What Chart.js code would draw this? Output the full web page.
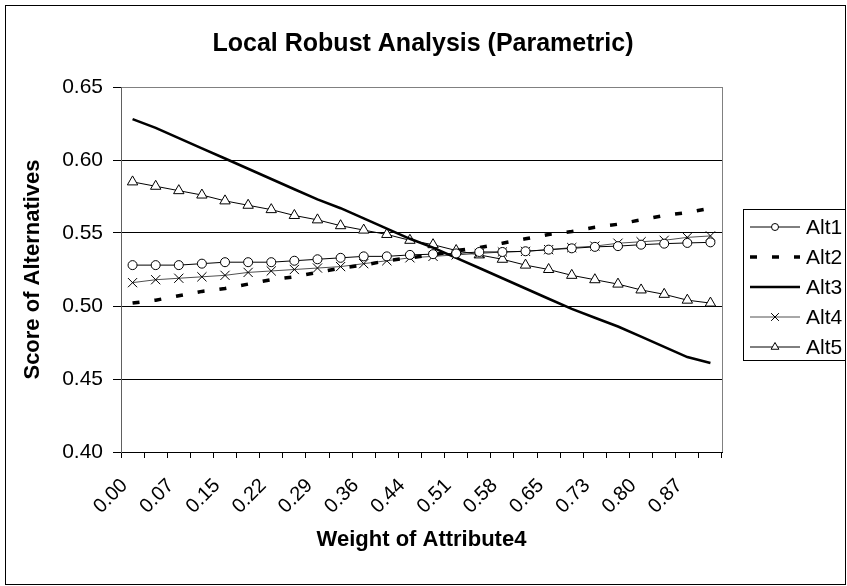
<!DOCTYPE html>
<html>
<head>
<meta charset="utf-8">
<script src="https://cdn.jsdelivr.net/npm/chart.js@4.4.1/dist/chart.umd.min.js"></script>
<style>
  html, body { margin: 0; padding: 0; background: #fff; }
  #wrap { width: 847px; height: 586px; position: relative; }
</style>
</head>
<body>
<div id="wrap"><canvas id="c" width="847" height="586"></canvas></div>
<script>
const categories = ['0.00','0.04','0.07','0.11','0.15','0.18','0.22','0.25','0.29','0.33','0.36','0.40','0.44','0.47','0.51','0.54','0.58','0.62','0.65','0.69','0.73','0.76','0.80','0.83','0.87','0.91'];
const alt1 = [0.528,0.528,0.528,0.529,0.530,0.530,0.530,0.531,0.532,0.533,0.534,0.534,0.535,0.5355,0.536,0.537,0.537,0.5375,0.5386,0.5395,0.5405,0.541,0.542,0.5427,0.5432,0.5436];
const alt2 = [0.502,0.504,0.507,0.510,0.512,0.515,0.518,0.520,0.523,0.526,0.528,0.531,0.533,0.535,0.538,0.540,0.543,0.546,0.549,0.551,0.554,0.556,0.559,0.562,0.564,0.567];
const alt3 = [0.628,0.622,0.615,0.608,0.601,0.594,0.587,0.580,0.573,0.567,0.560,0.553,0.546,0.540,0.533,0.526,0.519,0.512,0.505,0.498,0.492,0.486,0.479,0.472,0.465,0.461];
const alt4 = [0.516,0.518,0.519,0.520,0.521,0.523,0.524,0.525,0.526,0.527,0.529,0.531,0.533,0.534,0.535,0.536,0.537,0.5374,0.5386,0.540,0.541,0.543,0.544,0.545,0.547,0.548];
const alt5 = [0.585,0.582,0.579,0.576,0.572,0.569,0.566,0.562,0.559,0.555,0.552,0.549,0.545,0.542,0.538,0.535,0.532,0.528,0.525,0.521,0.518,0.515,0.511,0.508,0.504,0.502];
const yTicks = [0.40, 0.45, 0.50, 0.55, 0.60, 0.65];
const chartTitle = 'Local Robust Analysis (Parametric)';

const FONT = "'Liberation Sans', Arial, Helvetica, sans-serif";

const framePlugin = {
  id: 'frame',
  afterDraw(chart) {
    const ctx = chart.ctx;
    const a = chart.chartArea;
    ctx.save();
    // plot area right border
    ctx.strokeStyle = '#808080';
    ctx.lineWidth = 1;
    ctx.beginPath();
    ctx.moveTo(Math.round(a.right) + 0.5, a.top);
    ctx.lineTo(Math.round(a.right) + 0.5, a.bottom);
    ctx.stroke();
    // outer chart border
    ctx.strokeStyle = '#000';
    ctx.strokeRect(5.5, 5.5, 840, 579);
    // title
    ctx.fillStyle = '#000';
    ctx.font = 'bold 25px ' + FONT;
    ctx.textAlign = 'center';
    ctx.textBaseline = 'middle';
    ctx.fillText(chartTitle, 423, 44);
    // legend
    const lx = 743.5, ly = 209.5, lw = 102, lh = 151;
    ctx.strokeStyle = '#000';
    ctx.lineWidth = 1;
    ctx.strokeRect(lx, ly, lw, lh);
    ctx.font = '21px ' + FONT;
    ctx.textBaseline = 'middle';
    ctx.textAlign = 'left';
    chart.data.datasets.forEach((ds, i) => {
      const y = 227 + i * 30;
      ctx.save();
      ctx.strokeStyle = ds.borderColor;
      ctx.lineWidth = ds.borderWidth;
      ctx.setLineDash(ds.borderDash || []);
      ctx.beginPath();
      ctx.moveTo(750, y);
      ctx.lineTo(800, y);
      ctx.stroke();
      ctx.restore();
      if (ds.pointRadius > 0) {
        ctx.save();
        ctx.fillStyle = '#fff';
        ctx.strokeStyle = '#000';
        ctx.lineWidth = 1;
        Chart.helpers.drawPoint(ctx, {
          pointStyle: ds.pointStyle,
          rotation: 0,
          borderWidth: 1,
          radius: ds.legendRadius
        }, 775, y);
        ctx.restore();
      }
      ctx.fillStyle = '#000';
      ctx.fillText(ds.label, 806, y + 1);
    });
    ctx.restore();
  }
};

function mk(label, data, extra) {
  return Object.assign({
    label, data,
    borderColor: '#000',
    backgroundColor: '#fff',
    borderWidth: 1,
    pointRadius: 0,
    pointHoverRadius: 0,
    tension: 0,
    fill: false
  }, extra);
}

const chart = new Chart(document.getElementById('c'), {
  type: 'line',
  data: {
    labels: categories,
    datasets: [
      mk('Alt1', alt1, { pointStyle: 'circle', pointRadius: 4.5, legendRadius: 3.5, pointBorderWidth: 1, pointBackgroundColor: '#fff', pointBorderColor: '#000' }),
      mk('Alt2', alt2, { borderWidth: 3.5, borderDash: [7, 15] }),
      mk('Alt3', alt3, { borderWidth: 2.6 }),
      mk('Alt4', alt4, { borderColor: '#505050', pointStyle: 'crossRot', pointRadius: 6.5, legendRadius: 5.5, pointBorderWidth: 1, pointBorderColor: '#000' }),
      mk('Alt5', alt5, { pointStyle: 'triangle', pointRadius: 6, legendRadius: 4.5, pointBorderWidth: 1, pointBackgroundColor: '#fff', pointBorderColor: '#000' })
    ]
  },
  options: {
    responsive: false,
    animation: false,
    devicePixelRatio: 1,
    layout: { padding: { top: 87, left: 0, right: 125, bottom: 0 } },
    plugins: {
      legend: { display: false },
      tooltip: { enabled: false },
      title: { display: false }
    },
    scales: {
      x: {
        type: 'category',
        offset: true,
        afterFit(s) { s.height = 134; },
        grid: { display: true, offset: true, drawOnChartArea: false, drawTicks: true, tickLength: 6, color: '#000' },
        border: { display: true, color: '#000', width: 1 },
        ticks: {
          autoSkip: false,
          maxRotation: 45,
          minRotation: 45,
          padding: 16,
          labelOffset: -8,
          color: '#000',
          font: { family: FONT, size: 20 },
          callback(v, i) { return i % 2 === 0 ? categories[i] : ''; }
        },
        title: {
          display: true,
          text: 'Weight of Attribute4',
          color: '#000',
          font: { family: FONT, size: 22, weight: 'bold' },
          padding: { top: 0, bottom: 33 }
        }
      },
      y: {
        min: 0.40,
        max: 0.65,
        afterFit(s) { s.width = 121; },
        afterBuildTicks(s) { s.ticks = yTicks.map(v => ({ value: v })); },
        grid: {
          drawTicks: true,
          tickLength: 8,
          tickColor: '#000',
          color: (c) => (c.tick && Math.abs(c.tick.value - 0.65) < 1e-9) ? '#808080' : '#000'
        },
        border: { display: true, color: '#606060', width: 1 },
        ticks: {
          padding: 10,
          color: '#000',
          font: { family: FONT, size: 21 },
          callback(v) { return Number(v).toFixed(2); }
        },
        title: {
          display: true,
          text: 'Score of Alternatives',
          color: '#000',
          font: { family: FONT, size: 22, weight: 'bold' },
          padding: { top: 20, bottom: 0 }
        }
      }
    }
  },
  plugins: [framePlugin]
});
</script>
</body>
</html>
